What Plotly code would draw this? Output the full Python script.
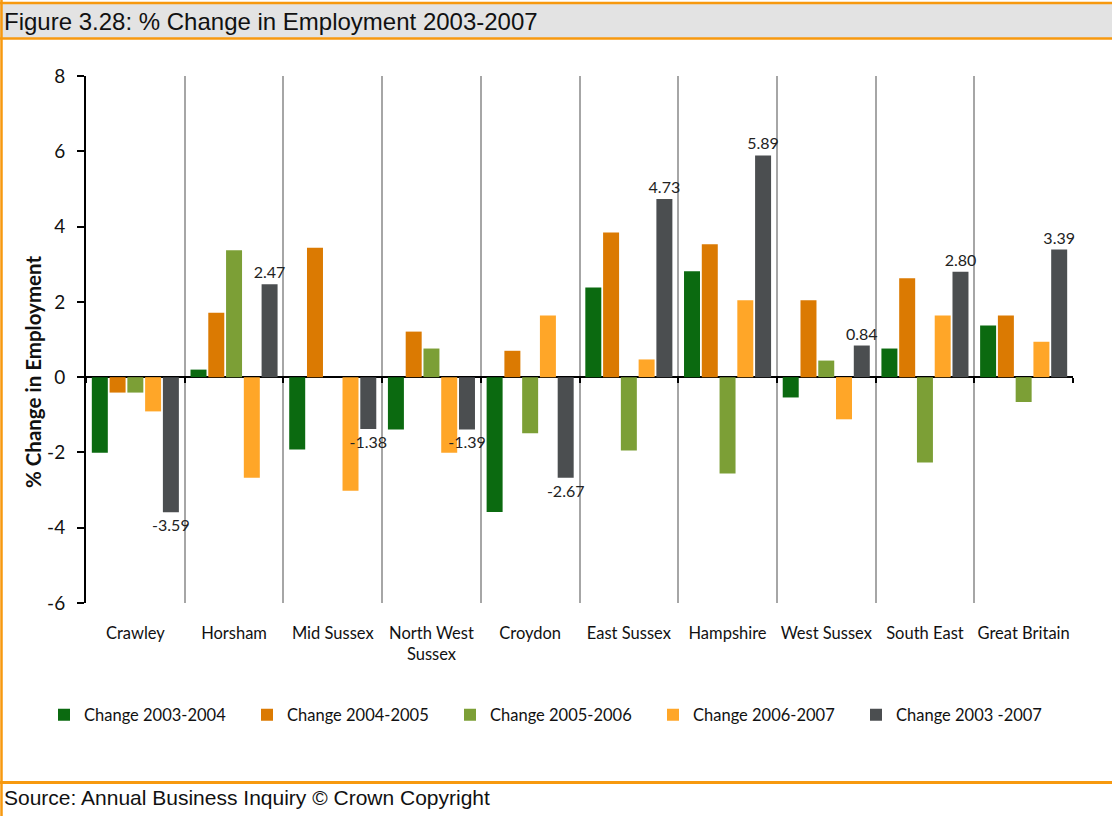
import plotly.graph_objects as go

categories = ["Crawley", "Horsham", "Mid Sussex", "North West<br>Sussex", "Croydon",
              "East Sussex", "Hampshire", "West Sussex", "South East", "Great Britain"]

change_2003_2004 = [-2.01, 0.20, -1.92, -1.39, -3.58, 2.38, 2.81, -0.54, 0.76, 1.37]
change_2004_2005 = [-0.41, 1.71, 3.44, 1.21, 0.70, 3.84, 3.53, 2.04, 2.63, 1.64]
change_2005_2006 = [-0.41, 3.37, 0.00, 0.76, -1.49, -1.95, -2.56, 0.44, -2.27, -0.66]
change_2006_2007 = [-0.91, -2.67, -3.02, -2.01, 1.64, 0.47, 2.04, -1.12, 1.64, 0.94]
change_2003_2007 = [-3.59, 2.47, -1.38, -1.39, -2.67, 4.73, 5.89, 0.84, 2.80, 3.39]

series_names = ["Change 2003-2004", "Change 2004-2005", "Change 2005-2006",
                "Change 2006-2007", "Change 2003 -2007"]
series_values = [change_2003_2004, change_2004_2005, change_2005_2006,
                 change_2006_2007, change_2003_2007]
series_colors = ["#0b6a10", "#db7a02", "#7c9f36", "#ffa628", "#4b4e50"]

y_range = [-6, 8]
y_tick_step = 2
y_ticks = list(range(y_range[0], y_range[1] + 1, y_tick_step))
y_tick_labels = [str(v) for v in y_ticks]
x_range = [-0.5, len(categories) - 0.5]

W, H = 1112, 816
ML, MR, MT, MB = 86, 39, 76, 213
PW, PH = W - ML - MR, H - MT - MB


def px_x(x):
    return (x - ML) / PW


def px_y(y):
    return (H - MB - y) / PH


BODY = "Lato, 'Open Sans', sans-serif"
ARIAL = "'Liberation Sans', Arial, sans-serif"
ORANGE = "#f7990f"

fig = go.Figure()
for i, (name, vals, col) in enumerate(zip(series_names, series_values, series_colors)):
    kw = {}
    if i == len(series_names) - 1:
        kw = dict(text=[f"{v:.2f}" for v in vals], texttemplate="%{text}",
                  textposition="outside",
                  textfont=dict(family=BODY, size=16, color="#222222"),
                  constraintext="none", cliponaxis=False)
    fig.add_trace(go.Bar(x=categories, y=vals, name=name, marker_color=col,
                         marker_line_width=0, **kw))

# helper trace carrying the category tick marks drawn on the zero line
fig.add_trace(go.Scatter(x=categories, y=[None] * len(categories), xaxis="x2",
                         mode="lines", showlegend=False, hoverinfo="skip"))

shapes = [
    dict(type="rect", xref="paper", yref="paper", x0=px_x(0), x1=px_x(W),
         y0=px_y(39), y1=px_y(3), fillcolor="#e3e3e3", line_width=0, layer="below"),
    dict(type="line", xref="paper", yref="paper", x0=px_x(0), x1=px_x(W),
         y0=px_y(3), y1=px_y(3), line=dict(color=ORANGE, width=2.5)),
    dict(type="line", xref="paper", yref="paper", x0=px_x(0), x1=px_x(W),
         y0=px_y(38.5), y1=px_y(38.5), line=dict(color=ORANGE, width=2.5)),
    dict(type="line", xref="paper", yref="paper", x0=px_x(0), x1=px_x(W),
         y0=px_y(782.5), y1=px_y(782.5), line=dict(color=ORANGE, width=3)),
    dict(type="line", xref="paper", yref="paper", x0=px_x(1.5), x1=px_x(1.5),
         y0=px_y(0), y1=px_y(H), line=dict(color=ORANGE, width=2.5)),
]

annotations = [
    dict(text="Figure 3.28: % Change in Employment 2003-2007", xref="paper", yref="paper",
         x=px_x(2), y=px_y(22), xanchor="left", yanchor="middle", showarrow=False,
         font=dict(family=ARIAL, size=24, color="#111111")),
    dict(text="Source: Annual Business Inquiry © Crown Copyright", xref="paper", yref="paper",
         x=px_x(2), y=px_y(797), xanchor="left", yanchor="middle", showarrow=False,
         font=dict(family=ARIAL, size=21, color="#111111")),
    dict(text="<b>% Change in Employment</b>", xref="paper", yref="paper",
         x=px_x(33), y=px_y(372), xanchor="center", yanchor="middle", showarrow=False,
         textangle=-90, font=dict(family=BODY, size=20.5, color="#111111")),
]

zero_pos = (0 - y_range[0]) / (y_range[1] - y_range[0])

fig.update_layout(
    width=W, height=H,
    margin=dict(l=ML, r=MR, t=MT, b=MB, pad=0),
    paper_bgcolor="white", plot_bgcolor="white",
    barmode="group", bargap=0.1, bargroupgap=0.1,
    shapes=shapes, annotations=annotations,
    showlegend=True,
    legend=dict(orientation="h", x=px_x(44), xanchor="left", y=px_y(715),
                yanchor="middle", font=dict(family=BODY, size=16.5, color="#111111"),
                itemwidth=30, traceorder="normal", entrywidth=158),
    xaxis=dict(range=x_range, tickson="boundaries", showgrid=True, gridcolor="#a6a6a6",
               gridwidth=1.5, showline=False, ticks="", ticklabelstandoff=18, tickangle=0,
               tickfont=dict(family=BODY, size=16.5, color="#111111"), zeroline=False),
    xaxis2=dict(overlaying="x", range=x_range, anchor="free", position=zero_pos,
                tickson="boundaries", ticks="outside", ticklen=5, tickwidth=1.5,
                tickcolor="black", showticklabels=False, showgrid=False,
                showline=False, zeroline=False),
    yaxis=dict(range=y_range, tickvals=y_ticks, ticktext=y_tick_labels, showgrid=False,
               showline=True, linecolor="black", linewidth=2,
               ticks="outside", ticklen=7, tickwidth=1.5, tickcolor="black",
               ticklabelstandoff=8,
               tickfont=dict(family=BODY, size=19, color="#111111"),
               zeroline=True, zerolinecolor="black", zerolinewidth=2),
)

fig.write_html("out.html", config={"displayModeBar": False},
               post_script="document.body.style.margin='0';document.body.style.padding='0';")
